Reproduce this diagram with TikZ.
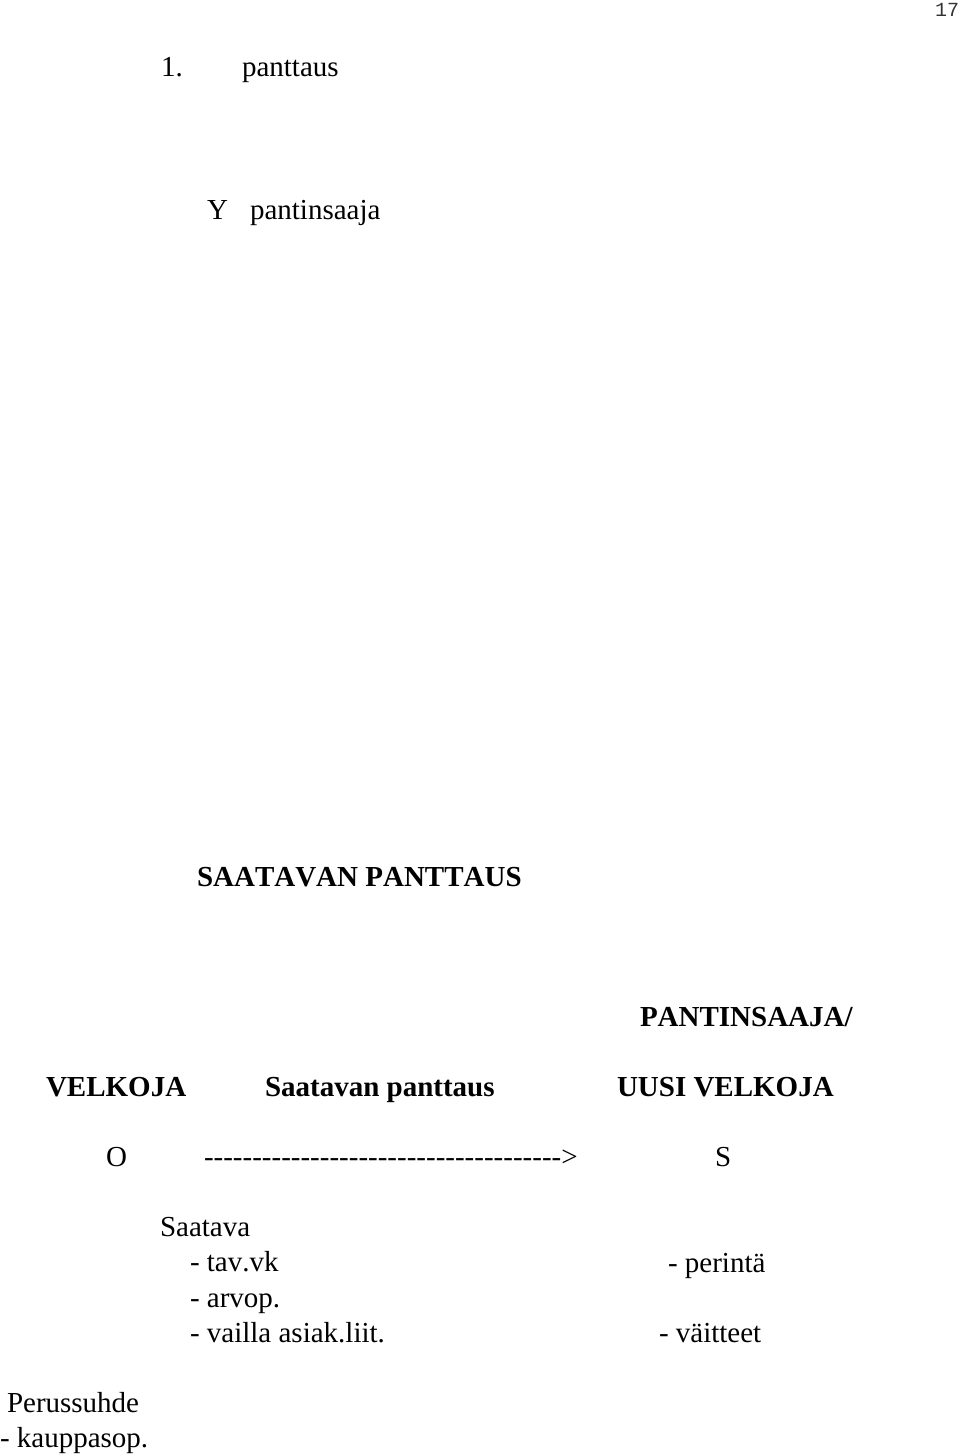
\documentclass[tikz,border=0pt]{standalone}
\usepackage{fontspec}
\setmainfont{Liberation Serif}[Kerning=Off]
\newfontfamily\pagenofont{Liberation Mono}
\newcommand\hy{-\kern0pt}
\newcommand\hyten{\hy\hy\hy\hy\hy\hy\hy\hy\hy\hy}
\tikzset{
  txt/.style={anchor=base west, inner sep=0pt, outer sep=0pt, font=\fontsize{29bp}{35bp}\selectfont},
  btxt/.style={txt, font=\fontsize{29bp}{35bp}\selectfont\bfseries},
  pageno/.style={anchor=base east, inner sep=0pt, outer sep=0pt, font=\pagenofont\fontsize{20bp}{24bp}\selectfont, text=black!80}
}
\begin{document}
\begin{tikzpicture}[x=1bp, y=-1bp]
\useasboundingbox (0,0) rectangle (960,1456);
\fill[white] (0,0) rectangle (960,1456);
\node[pageno] (pg) at (959,17) {17};
\node[txt] (num) at (161,77) {1.};
\node[txt] (title) at (242,77) {panttaus};
\node[txt] (ylbl) at (207,219) {Y};
\node[txt] (ytext) at (250,219) {pantinsaaja};
\node[btxt] (head) at (197,886) {SAATAVAN PANTTAUS};
\node[btxt] (pant) at (640,1026) {PANTINSAAJA/};
\node[btxt] (velk) at (46,1096) {VELKOJA};
\node[btxt] (sp) at (265,1096) {Saatavan panttaus};
\node[btxt] (uusi) at (617,1096) {UUSI VELKOJA};
\node[txt] (o) at (106,1166) {O};
\node[txt] (arr) at (204,1166) {\hyten\hyten\hyten\hy\hy\hy\hy\hy\hy\hy>};
\node[txt] (s) at (715,1166) {S};
\node[txt] (saat) at (160,1236) {Saatava};
\node[txt] (tav) at (190,1271) {- tav.vk};
\node[txt] (arvop) at (190,1307) {- arvop.};
\node[txt] (vailla) at (190,1342) {- vailla asiak.liit.};
\node[txt] (perinta) at (668,1272) {- perintä};
\node[txt] (vait) at (659,1342) {- väitteet};
\node[txt] (peru) at (7,1412) {Perussuhde};
\node[txt] (kaup) at (0,1447) {- kauppasop.};
\end{tikzpicture}
\end{document}
